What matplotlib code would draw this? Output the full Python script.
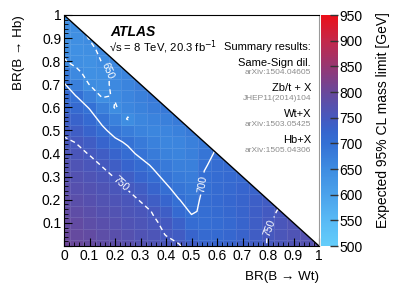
import numpy as np
import matplotlib.pyplot as plt
from matplotlib.colors import LinearSegmentedColormap
from matplotlib.patches import Polygon
from matplotlib.ticker import MultipleLocator, FuncFormatter

plt.rcParams['font.family'] = ['Liberation Sans', 'DejaVu Sans']

# BR grid (same steps on both axes)
br_steps = [0.00, 0.05, 0.10, 0.15, 0.20, 0.25, 0.30, 0.35, 0.40, 0.45, 0.50,
            0.55, 0.60, 0.65, 0.70, 0.75, 0.80, 0.85, 0.90, 0.95, 1.00]

# expected mass limit [GeV], one list per BR(B->Hb) value, BR(B->Wt) = 0 ... 1-BR(Hb)
hb_000 = [805, 800, 794, 788, 782, 776, 770, 764, 758, 752, 740, 728, 724, 727, 734, 742, 751, 758, 765, 770, 776]
hb_005 = [800, 795, 789, 783, 777, 771, 765, 759, 749, 742, 725, 714, 712, 718, 728, 740, 751, 757, 763, 769]
hb_010 = [795, 789, 783, 777, 771, 765, 759, 752, 747, 732, 708, 704, 708, 716, 726, 738, 748, 755, 762]
hb_015 = [790, 784, 778, 772, 766, 760, 755, 749, 737, 712, 697, 704, 710, 717, 726, 736, 746, 752]
hb_020 = [785, 779, 773, 767, 761, 755, 749, 738, 722, 701, 690, 706, 712, 718, 726, 734, 742]
hb_025 = [780, 774, 768, 762, 756, 749, 740, 725, 705, 690, 684, 703, 710, 716, 722, 728]
hb_030 = [774, 768, 762, 756, 749, 738, 723, 708, 693, 680, 676, 702, 708, 712, 716]
hb_035 = [768, 762, 756, 749, 738, 724, 710, 696, 682, 672, 672, 698, 706, 710]
hb_040 = [760, 755, 749, 740, 726, 708, 694, 680, 668, 664, 672, 690, 704]
hb_045 = [754, 749, 740, 724, 706, 696, 682, 670, 660, 662, 672, 684]
hb_050 = [745, 738, 726, 706, 690, 676, 666, 660, 662, 670, 680]
hb_055 = [736, 728, 712, 692, 670, 648, 660, 666, 672, 680]
hb_060 = [724, 714, 698, 672, 648, 660, 668, 676, 684]
hb_065 = [712, 699, 672, 646, 652, 662, 672, 682]
hb_070 = [703, 672, 649, 644, 655, 664, 676]
hb_075 = [680, 655, 642, 643, 656, 662]
hb_080 = [652, 643, 640, 651, 658]
hb_085 = [645, 641, 644, 656]
hb_090 = [644, 643, 651]
hb_095 = [645, 646]
hb_100 = [646]

contour_levels = [650, 700, 750]
cbar_ticks = [500, 550, 600, 650, 700, 750, 800, 850, 900, 950]

rows = [hb_000, hb_005, hb_010, hb_015, hb_020, hb_025, hb_030, hb_035, hb_040, hb_045,
        hb_050, hb_055, hb_060, hb_065, hb_070, hb_075, hb_080, hb_085, hb_090, hb_095, hb_100]
grid = np.full((len(br_steps), len(br_steps)), np.nan)
for j, row in enumerate(rows):
    grid[j, :len(row)] = row
grid = np.ma.masked_invalid(grid)

cmap = LinearSegmentedColormap.from_list("limit", [
    (0.0, "#64cdfa"), (50 / 450, "#58b9f5"), (100 / 450, "#4ba2eb"),
    (150 / 450, "#3e8ce1"), (200 / 450, "#3470d4"), (225 / 450, "#3764cd"),
    (250 / 450, "#4658be"), (300 / 450, "#69489b"), (350 / 450, "#963773"),
    (400 / 450, "#c3284b"), (1.0, "#eb0f19")])

fig = plt.figure(figsize=(3.99, 2.93), dpi=100)
ax = fig.add_axes([64 / 399, 47 / 293, 255 / 399, 231 / 293])
cax = fig.add_axes([321 / 399, 47 / 293, 17 / 399, 231 / 293])

tri = Polygon([(0, 0), (1, 0), (0, 1)], closed=True, transform=ax.transData,
              facecolor="none", edgecolor="none")

mesh = ax.pcolormesh(br_steps, br_steps, grid, shading="nearest", cmap=cmap,
                     vmin=500, vmax=950, edgecolors=(1, 1, 1, 0.1), linewidth=0.4)
mesh.set_clip_path(tri)

cs = ax.contour(br_steps, br_steps, grid, levels=contour_levels, colors="white",
                linewidths=1.0,
                linestyles=[(0, (3.5, 2.5)), "solid", (0, (3.5, 2.5))])
cs.set_clip_path(tri)
ax.clabel(cs, fmt="%d", fontsize=7.5, colors="white", inline=True, inline_spacing=2,
          manual=[(0.17, 0.76), (0.545, 0.27), (0.22, 0.27), (0.785, 0.09)])

ax.plot([0, 1], [1, 0], color="black", lw=1.0)

ax.set_xlim(0, 1)
ax.set_ylim(0, 1)
for axis in (ax.xaxis, ax.yaxis):
    axis.set_major_locator(MultipleLocator(0.1))
    axis.set_minor_locator(MultipleLocator(0.02))
ax.xaxis.set_major_formatter(FuncFormatter(lambda v, _: f"{v:g}"))
ax.yaxis.set_major_formatter(FuncFormatter(lambda v, _: "" if abs(v) < 1e-6 else f"{v:g}"))
ax.tick_params(which="both", direction="in", top=False, right=False, labelsize=10)
ax.tick_params(which="major", length=6, width=0.8, pad=2)
ax.tick_params(which="minor", length=3, width=0.6)
ax.spines["right"].set_color("#9a9a9a")

cb = fig.colorbar(mesh, cax=cax, ticks=cbar_ticks)
cb.outline.set_visible(False)
cax.tick_params(direction="in", length=6, width=1, color="#333333", labelsize=10, pad=1)

fig.text(319 / 399, 1 - 277 / 293, "BR(B → Wt)", ha="right", va="center", fontsize=9.6)
fig.text(19 / 399, 1 - 15 / 293, "BR(B → Hb)", ha="center", va="top", rotation=90, fontsize=9.6)
fig.text(383 / 399, 1 - 12 / 293, "Expected 95% CL mass limit [GeV]", ha="center", va="top",
         rotation=90, fontsize=10)

fig.text(110 / 399, 1 - 31.5 / 293, "ATLAS", fontsize=10, fontweight="bold", style="italic",
         ha="left", va="center")
fig.text(109 / 399, 1 - 47.5 / 293, "√s = 8 TeV, 20.3 fb$^{-1}$", fontsize=8.1, ha="left", va="center")

rx = 311 / 399
fig.text(rx, 1 - 47 / 293, "Summary results:", fontsize=8, ha="right", va="center")
entries = [("Same-Sign dil.", "arXiv:1504.04605", 63),
           ("Zb/t + X", "JHEP11(2014)104", 88),
           ("Wt+X", "arXiv:1503.05425", 114),
           ("Hb+X", "arXiv:1505.04306", 140)]
for name, ref, ypix in entries:
    fig.text(rx, 1 - ypix / 293, name, fontsize=8, ha="right", va="center")
    fig.text(rx, 1 - (ypix + 10) / 293, ref, fontsize=6, color="#8c8c8c", ha="right", va="center")

fig.savefig("out.png", dpi=100)
